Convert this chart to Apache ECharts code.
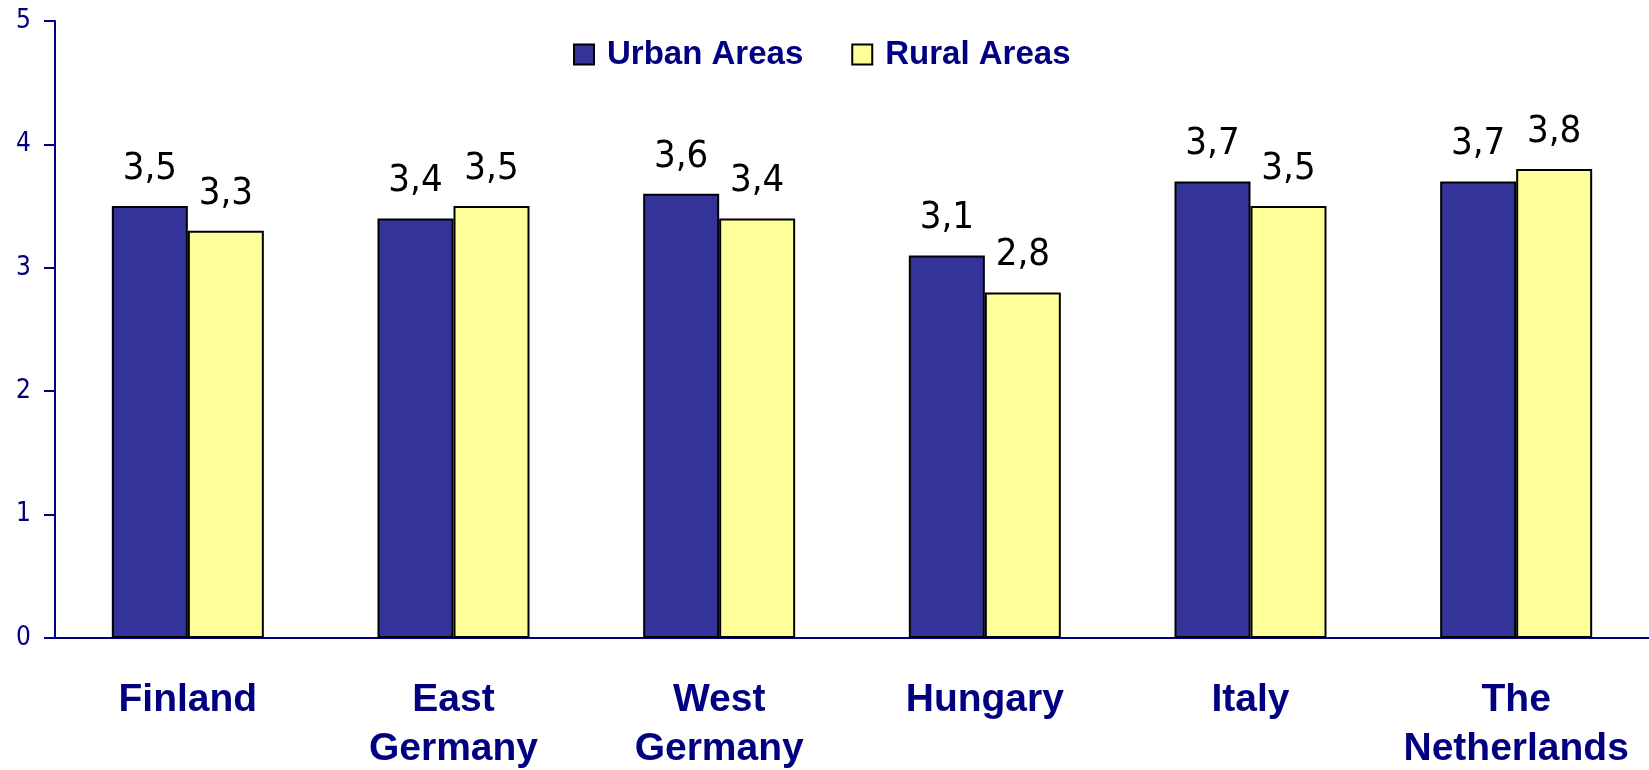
<!DOCTYPE html>
<html>
<head>
<meta charset="utf-8">
<script src="https://cdn.jsdelivr.net/npm/echarts@6/dist/echarts.min.js"></script>
<style>
html,body{margin:0;padding:0;background:#fff;}
#chart{width:1649px;height:770px;}
</style>
</head>
<body>
<div id="chart"></div>
<script>
var categories = ['Finland', 'East\nGermany', 'West\nGermany', 'Hungary', 'Italy', 'The\nNetherlands'];
var urbanAreas = [3.5, 3.4, 3.6, 3.1, 3.7, 3.7];
var ruralAreas = [3.3, 3.5, 3.4, 2.8, 3.5, 3.8];
var seriesNames = ['Urban Areas', 'Rural Areas'];
var yTicks = { min: 0, max: 5, interval: 1 };

var NAVY = '#000080';
var NARROW = "'Liberation Sans Narrow', 'DejaVu Sans Condensed', 'Arial Narrow', sans-serif";
var SANS = "'Liberation Sans', Arial, sans-serif";

function fmt(p) { return String(p.value).replace('.', ','); }

var labelStyle = {
  show: true, position: 'top', distance: 18, formatter: fmt,
  color: '#000', fontFamily: NARROW, fontSize: 38
};

var chart = echarts.init(document.getElementById('chart'));
chart.setOption({
  animation: false,
  backgroundColor: '#fff',
  legend: {
    left: 573, top: 38, padding: 0,
    itemWidth: 20, itemHeight: 20, itemGap: 48,
    icon: 'rect',
    textStyle: { color: NAVY, fontFamily: SANS, fontWeight: 'bold', fontSize: 33, lineHeight: 32, padding: [0, 0, 0, 8] },
    data: seriesNames
  },
  grid: { left: 55, right: 0, top: 21, bottom: 132, containLabel: false, outerBoundsMode: 'none' },
  xAxis: {
    type: 'category',
    data: categories,
    axisLine: { lineStyle: { color: NAVY, width: 2 } },
    axisTick: { show: false },
    axisLabel: { color: NAVY, fontFamily: SANS, fontWeight: 'bold', fontSize: 39, lineHeight: 49, margin: 38, interval: 0 }
  },
  yAxis: {
    type: 'value',
    min: yTicks.min, max: yTicks.max, interval: yTicks.interval,
    axisLine: { show: true, lineStyle: { color: NAVY, width: 2 } },
    axisTick: { show: true, length: 11, lineStyle: { color: NAVY, width: 2 } },
    splitLine: { show: false },
    axisLabel: { color: NAVY, fontFamily: NARROW, fontSize: 26, margin: 24 }
  },
  series: [
    {
      name: seriesNames[0], type: 'bar', data: urbanAreas,
      barWidth: 76, barGap: '0%',
      itemStyle: { color: '#333399', borderColor: '#000', borderWidth: 2 },
      label: labelStyle
    },
    {
      name: seriesNames[1], type: 'bar', data: ruralAreas,
      barWidth: 76, barGap: '0%',
      itemStyle: { color: '#FFFF99', borderColor: '#000', borderWidth: 2 },
      label: labelStyle
    }
  ]
});
</script>
</body>
</html>
